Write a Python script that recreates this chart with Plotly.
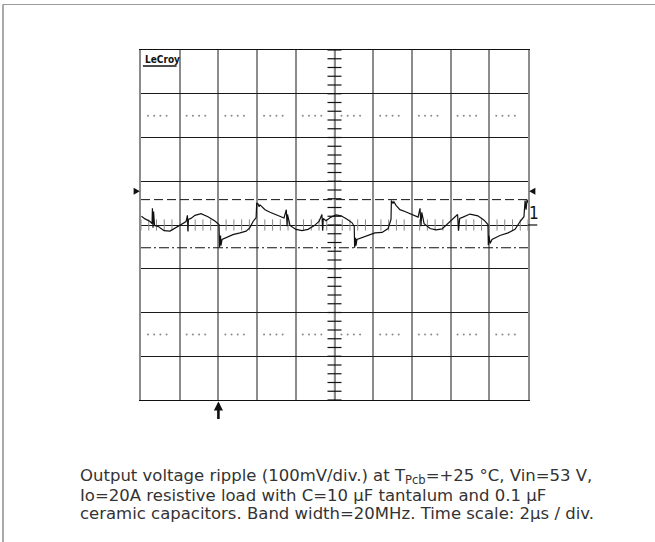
import plotly.graph_objects as go

# ---- data (time in µs, 2 µs/div; voltage in mV, 100 mV/div) ----
time_us = [0.02, 0.21, 0.47, 0.57, 0.59, 0.62, 0.65, 0.70, 0.88, 1.19, 1.50, 1.81, 2.12, 2.33,
           2.40, 2.43, 2.45, 2.58, 2.79, 3.10, 3.46, 3.82, 4.03, 4.06, 4.11, 4.13, 4.19, 4.39,
           4.75, 5.12, 5.43, 5.63, 5.79, 5.95, 5.98, 6.05, 6.10, 6.15, 6.41, 6.67, 7.08, 7.39,
           7.51, 7.55, 7.57, 7.70, 8.01, 8.32, 8.63, 8.94, 9.20, 9.35, 9.39, 9.42, 9.56, 9.82,
           10.08, 10.34, 10.65, 10.91, 11.02, 11.04, 11.09, 11.11, 11.16, 11.42, 11.73, 12.09,
           12.46, 12.77, 12.92, 12.94, 13.02, 13.07, 13.18, 13.38, 13.64, 14.01, 14.32, 14.42,
           14.47, 14.51, 14.63, 14.94, 15.25, 15.56, 15.81, 16.07, 16.36, 16.41, 16.47, 16.64,
           17.00, 17.41, 17.73, 17.93, 17.95, 17.98, 18.04, 18.14, 18.55, 18.97, 19.33, 19.59,
           19.79, 19.85, 19.90, 19.95, 20.00]
ripple_mV = [20, 14, 8, 3, 38, -6, 31, -1, -3, -13, -14, -6, 3, 8,
             22, -15, 13, 15, 22, 26, 19, 9, 1, -51, -24, -47, -33, -29,
             -22, -18, -14, -6, 8, 17, 50, 48, 42, 46, 35, 29, 21, 16,
             35, -3, 24, -1, -10, -13, -10, -2, 8, 24, -13, 15, 10, 18,
             23, 21, 13, 5, -3, -52, -29, -47, -33, -29, -24, -18,
             -17, -8, 13, 56, 49, 53, 45, 35, 31, 24, 18, 38,
             -3, 29, 3, -8, -11, -9, 1, 13, 24, -13, 15, 18,
             25, 21, 11, 1, -46, -24, -42, -33, -24, -18, -10, 8,
             19, 56, 35, 58, 51]

upper_cursor_mV = 58
lower_cursor_mV = -52
trigger_level_mV = 77
trigger_time_us = 4
dotted_rows_mV = [250, -250]

T_MIN, T_MAX, T_DIV = 0, 20, 2
V_MIN, V_MAX, V_DIV = -400, 400, 100

caption_lines = [
    "Output voltage ripple (100mV/div.) at T<sub>Pcb</sub>=+25 °C, Vin=53 V,",
    "Io=20A resistive load with C=10 µF tantalum and 0.1 µF",
    "ceramic capacitors. Band width=20MHz. Time scale: 2µs / div.",
]

# ---- derived decoration positions ----
n_xdiv = int((T_MAX - T_MIN) / T_DIV)
n_ydiv = int((V_MAX - V_MIN) / V_DIV)
minor_t = [T_MIN + i * T_DIV / 5 for i in range(n_xdiv * 5 + 1)]
minor_v = [V_MIN + i * V_DIV / 5 for i in range(n_ydiv * 5 + 1)]
t_center = (T_MIN + T_MAX) / 2
dot_fracs = [0.18, 0.34, 0.50, 0.66]
dot_t, dot_v = [], []
for v in dotted_rows_mV:
    for d in range(n_xdiv):
        for f in dot_fracs:
            dot_t.append(T_MIN + (d + f) * T_DIV)
            dot_v.append(v)

fig = go.Figure()

# dotted rows
fig.add_trace(go.Scatter(x=dot_t, y=dot_v, mode="markers",
                         marker=dict(symbol="circle", size=2, color="#8a8a8a"),
                         hoverinfo="skip", showlegend=False))
# minor ticks on the centre lines
fig.add_trace(go.Scatter(x=minor_t, y=[0] * len(minor_t), mode="markers",
                         marker=dict(symbol="line-ns", size=8, line=dict(width=1, color="#8a8a8a")),
                         hoverinfo="skip", showlegend=False))
fig.add_trace(go.Scatter(x=[t_center] * len(minor_v), y=minor_v, mode="markers",
                         marker=dict(symbol="line-ew", size=10, line=dict(width=1.2, color="#111")),
                         hoverinfo="skip", showlegend=False))
# cursors
fig.add_trace(go.Scatter(x=[T_MIN, T_MAX], y=[upper_cursor_mV] * 2, mode="lines",
                         line=dict(color="#111", width=1, dash="9px,4px"),
                         hoverinfo="skip", showlegend=False))
fig.add_trace(go.Scatter(x=[T_MIN, T_MAX], y=[lower_cursor_mV] * 2, mode="lines",
                         line=dict(color="#111", width=1, dash="10px,3px,2px,3px"),
                         hoverinfo="skip", showlegend=False))
# waveform
fig.add_trace(go.Scatter(x=time_us, y=ripple_mV, mode="lines",
                         line=dict(color="#111", width=1.2),
                         hoverinfo="skip", showlegend=False))

shapes = []
# darker major vertical lines
for t in [4, 10, 16]:
    shapes.append(dict(type="line", xref="x", yref="paper", x0=t, x1=t, y0=0, y1=1,
                       line=dict(color="#111", width=1.2), layer="below"))
# trigger level markers (small triangles outside the grid)
tl = trigger_level_mV
shapes.append(dict(type="path", xref="paper", yref="y",
                   path=f"M -0.019,{tl + 8} L -0.003,{tl} L -0.019,{tl - 8} Z",
                   fillcolor="#111", line=dict(width=0)))
shapes.append(dict(type="path", xref="paper", yref="y",
                   path=f"M 1.019,{tl + 8} L 1.003,{tl} L 1.019,{tl - 8} Z",
                   fillcolor="#111", line=dict(width=0)))
# channel marker underline
shapes.append(dict(type="line", xref="paper", yref="y", x0=1.0, x1=1.024, y0=0, y1=0,
                   line=dict(color="#111", width=1.2)))
# outer frame (top and left)
shapes.append(dict(type="line", xref="paper", yref="paper", x0=-0.3566, x1=1.33, y0=1.13, y1=1.13,
                   line=dict(color="#9a9a9a", width=1)))
shapes.append(dict(type="line", xref="paper", yref="paper", x0=-0.3566, x1=-0.3566, y0=-0.41, y1=1.13,
                   line=dict(color="#555", width=1)))
# LeCroy underline
shapes.append(dict(type="line", xref="paper", yref="paper", x0=0.005, x1=0.092, y0=0.954, y1=0.954,
                   line=dict(color="#111", width=1.5)))

annotations = [
    dict(text="<b>LeCroy</b>", xref="paper", yref="paper", x=0.004, y=0.993,
         xanchor="left", yanchor="top", showarrow=False,
         font=dict(family="DejaVu Sans Condensed", size=10, color="#111")),
    dict(text="1", xref="paper", yref="y", x=0.998, y=28, xanchor="left", yanchor="middle",
         showarrow=False, font=dict(family="DejaVu Sans Condensed", size=17, color="#111")),
    dict(text="", xref="x", yref="paper", x=trigger_time_us, y=-0.004, ax=0, ay=19,
         showarrow=True, arrowhead=2, arrowsize=0.7, arrowwidth=2.6, arrowcolor="#111"),
]
caption_y = [-0.2185, -0.2729, -0.3257]
for line, yy in zip(caption_lines, caption_y):
    annotations.append(dict(text=line, xref="paper", yref="paper", x=-0.1628, y=yy,
                            xanchor="left", yanchor="middle", align="left", showarrow=False,
                            font=dict(family="DejaVu Sans", size=16.5, color="#333")))

fig.update_layout(
    width=655, height=542,
    margin=dict(l=141, r=127, t=50, b=142),
    paper_bgcolor="white", plot_bgcolor="white",
    shapes=shapes, annotations=annotations,
    xaxis=dict(range=[T_MIN, T_MAX], dtick=T_DIV, tick0=T_MIN, showgrid=True,
               gridcolor="#8c8c8c", gridwidth=1.6, zeroline=False, showticklabels=False,
               ticks="", showline=True, mirror=True, linecolor="#111", linewidth=1.2),
    yaxis=dict(range=[V_MIN, V_MAX], dtick=V_DIV, tick0=V_MIN, showgrid=True,
               gridcolor="#1a1a1a", gridwidth=1, zeroline=False, showticklabels=False,
               ticks="", showline=True, mirror=True, linecolor="#8c8c8c", linewidth=1.6),
)

fig.write_html("out.html", config={"displayModeBar": False},
               post_script="document.body.style.margin='0';")
